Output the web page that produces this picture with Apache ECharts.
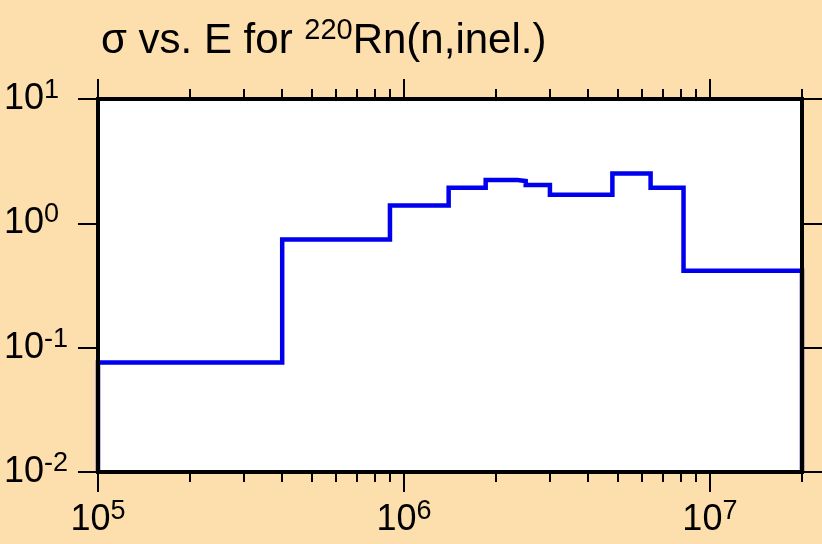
<!DOCTYPE html>
<html>
<head>
<meta charset="utf-8">
<script src="https://cdn.jsdelivr.net/npm/echarts@6/dist/echarts.min.js"></script>
<style>
  html, body { margin: 0; padding: 0; background: #FDDEAD; }
  #chart { width: 822px; height: 544px; }
</style>
</head>
<body>
<div id="chart"></div>
<script>
// Group boundaries (eV) of the inelastic cross section histogram
const energyEdges = [1e5, 4e5, 9e5, 1.4e6, 1.85e6, 2.35e6, 2.5e6, 3e6, 4.8e6, 6.4e6, 8.2e6, 2e7];
// Cross section (b) in each group
const sigmaValues = [0.076, 0.74, 1.39, 1.93, 2.23, 2.19, 2.03, 1.70, 2.52, 1.93, 0.415];

// Axis ranges and labelled decades
const xMin = 1e5, xMax = 2e7;
const yMin = 0.01, yMax = 10;
const xDecades = [1e5, 1e6, 1e7];
const yDecades = [0.01, 0.1, 1, 10];

// Minor log ticks: 2..9 times each decade, within range
const xMinorTicks = [];
for (const d of xDecades) {
  for (let k = 2; k <= 9; k++) {
    const v = k * d;
    if (v <= xMax * 1.0000001) xMinorTicks.push(v);
  }
}

// Histogram outline: drops to the axis floor at both ends
const stepPoints = [[energyEdges[0], yMin]];
sigmaValues.forEach((v, i) => {
  stepPoints.push([energyEdges[i], v]);
  stepPoints.push([energyEdges[i + 1], v]);
});
stepPoints.push([energyEdges[energyEdges.length - 1], yMin]);

const FONT = "'Liberation Sans', Arial, sans-serif";
const powerLabel = v => {
  const e = Math.round(Math.log10(v));
  return '{b|10}{s|' + e + '}';
};
const labelRich = {
  b: { fontFamily: FONT, fontSize: 36, fontWeight: 'normal', color: '#000', lineHeight: 44, verticalAlign: 'middle' },
  s: { fontFamily: FONT, fontSize: 27, fontWeight: 'normal', color: '#000', lineHeight: 16, verticalAlign: 'top' }
};
const axisBlack = { show: true, onZero: false, lineStyle: { color: '#000', width: 4, cap: 'square' } };
const noLine = { show: false };

function xAxisDef(position, ticks, len, withLine, withLabels) {
  return {
    type: 'log', logBase: 10, min: xMin, max: xMax, position: position,
    z: 5,
    axisLine: withLine ? axisBlack : noLine,
    axisTick: { show: true, inside: false, length: len, customValues: ticks,
                lineStyle: { color: '#000', width: 2 } },
    axisLabel: withLabels
      ? { show: true, customValues: xDecades, margin: 26, formatter: powerLabel, rich: labelRich }
      : { show: false },
    splitLine: { show: false },
    minorTick: { show: false }
  };
}

function yAxisDef(position, withLabels) {
  return {
    type: 'log', logBase: 10, min: yMin, max: yMax, position: position,
    z: 5,
    axisLine: axisBlack,
    axisTick: { show: true, inside: false, length: 20, customValues: yDecades,
                lineStyle: { color: '#000', width: 2 } },
    axisLabel: withLabels
      ? { show: true, customValues: yDecades, margin: 94, align: 'left',
          formatter: powerLabel, rich: labelRich }
      : { show: false },
    splitLine: { show: false }
  };
}

const chart = echarts.init(document.getElementById('chart'), null, { renderer: 'canvas' });
chart.setOption({
  animation: false,
  backgroundColor: '#FDDEAD',
  title: {
    left: 101, top: 16, padding: 0,
    text: '{a|σ vs. E for }{s|220}{a|Rn(n,inel.)}',
    textStyle: {
      fontWeight: 'normal',
      rich: {
        a: { fontFamily: FONT, fontSize: 42, fontWeight: 'normal', color: '#000', lineHeight: 50, verticalAlign: 'middle' },
        s: { fontFamily: FONT, fontSize: 29, fontWeight: 'normal', color: '#000', lineHeight: 24, verticalAlign: 'top' }
      }
    }
  },
  grid: {
    left: 98, right: 20, top: 99, bottom: 72,
    outerBoundsMode: 'none', containLabel: false,
    show: true, backgroundColor: '#fff', borderWidth: 0
  },
  xAxis: [
    xAxisDef('bottom', xDecades, 20, true, true),
    xAxisDef('bottom', xMinorTicks, 10, false, false),
    xAxisDef('top', xDecades, 20, true, false),
    xAxisDef('top', xMinorTicks, 10, false, false)
  ],
  yAxis: [
    yAxisDef('left', true),
    yAxisDef('right', false)
  ],
  series: [{
    type: 'line',
    xAxisIndex: 0, yAxisIndex: 0,
    data: stepPoints,
    showSymbol: false, symbol: 'none',
    lineStyle: { color: '#0000EE', width: 4.5, join: 'miter' },
    z: 2
  }]
});
</script>
</body>
</html>
